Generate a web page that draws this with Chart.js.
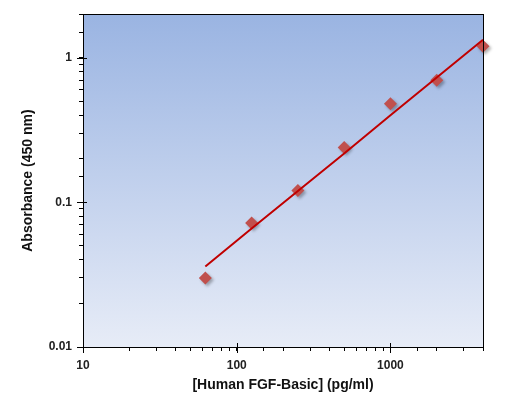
<!DOCTYPE html>
<html>
<head>
<meta charset="utf-8">
<script src="https://cdn.jsdelivr.net/npm/chart.js@4/dist/chart.umd.min.js"></script>
<style>
  html, body { margin: 0; padding: 0; background: #fff; }
  #wrap { width: 520px; height: 414px; }
</style>
</head>
<body>
<div id="wrap"><canvas id="curve"></canvas></div>
<script>
// standard concentrations (pg/ml) and measured absorbance
const concentrations = [62.5, 125, 250, 500, 1000, 2000, 4000];
const absorbance = [0.030, 0.072, 0.121, 0.24, 0.48, 0.70, 1.20];

// fitted curve at the same concentrations
const fitValues = [0.036, 0.066, 0.120, 0.218, 0.40, 0.73, 1.33];

const xDecades = [10, 100, 1000];
const yDecades = [0.01, 0.1, 1];

const isDecade = (list, v) => list.some(d => Math.abs(d - v) < d * 1e-6);

const plotFrame = {
    id: "plotFrame",
    beforeDraw(chart) {
        const { ctx, chartArea: a } = chart;
        const g = ctx.createLinearGradient(0, a.top, 0, a.bottom);
        g.addColorStop(0, "#9ab4e2");
        g.addColorStop(1, "#e7ecf7");
        ctx.save();
        ctx.fillStyle = g;
        ctx.fillRect(a.left, a.top, a.right - a.left, a.bottom - a.top);
        ctx.restore();
    },
    // soft drop shadow under the diamonds
    beforeDatasetDraw(chart, args) {
        if (args.index !== 1) return;
        const ctx = chart.ctx;
        ctx.save();
        ctx.shadowColor = "rgba(0,0,0,0.3)";
        ctx.shadowBlur = 3;
        ctx.shadowOffsetX = 2;
        ctx.shadowOffsetY = 2;
    },
    afterDatasetDraw(chart, args) {
        if (args.index !== 1) return;
        chart.ctx.restore();
    },
    afterDraw(chart) {
        const { ctx, chartArea: a, scales } = chart;
        ctx.save();
        ctx.strokeStyle = "#000000";
        ctx.lineWidth = 1;
        ctx.strokeRect(Math.round(a.left) + 0.5, Math.round(a.top) + 0.5,
            Math.round(a.right - a.left), Math.round(a.bottom - a.top));

        // decade ticks also cross into the plot area
        ctx.beginPath();
        xDecades.forEach(v => {
            const px = Math.round(scales.x.getPixelForValue(v)) + 0.5;
            ctx.moveTo(px, a.bottom - 4);
            ctx.lineTo(px, a.bottom + 6);
        });
        yDecades.forEach(v => {
            const py = Math.round(scales.y.getPixelForValue(v)) + 0.5;
            ctx.moveTo(a.left - 6, py);
            ctx.lineTo(a.left + 4, py);
        });
        ctx.stroke();
        ctx.restore();
    }
};

const tickFont = { family: "'Liberation Sans', Arial, sans-serif", size: 12, weight: "bold" };
const titleFont = { family: "'Liberation Sans', Arial, sans-serif", size: 14, weight: "bold" };

const outsideTicks = {
    display: true,
    drawOnChartArea: false,
    drawTicks: true,
    tickLength: 4,
    tickColor: "#000000",
    tickWidth: 1
};

new Chart(document.getElementById("curve"), {
    data: {
        datasets: [
            {
                type: "line",
                data: concentrations.map((c, i) => ({ x: c, y: fitValues[i] })),
                borderColor: "#c00000",
                borderWidth: 2,
                pointRadius: 0,
                tension: 0,
                order: 0
            },
            {
                type: "scatter",
                data: concentrations.map((c, i) => ({ x: c, y: absorbance[i] })),
                pointStyle: "rectRot",
                pointRadius: 6.5,
                backgroundColor: "#c0504d",
                borderColor: "#c0504d",
                borderWidth: 0,
                clip: false,
                order: 1
            }
        ]
    },
    options: {
        responsive: true,
        maintainAspectRatio: false,
        animation: false,
        layout: {
            padding: { top: 14, right: 37, left: 0, bottom: 0 }
        },
        plugins: {
            legend: { display: false },
            tooltip: { enabled: false }
        },
        scales: {
            x: {
                type: "logarithmic",
                min: 10,
                max: 4000,
                grid: outsideTicks,
                border: { display: true, color: "#000000", width: 1 },
                ticks: {
                    autoSkip: false,
                    maxRotation: 0,
                    padding: 7,
                    color: "#222",
                    font: tickFont,
                    callback: v => isDecade(xDecades, v) ? String(v) : ""
                },
                title: {
                    display: true,
                    text: "[Human FGF-Basic] (pg/ml)",
                    color: "#111",
                    font: titleFont,
                    padding: { top: 0, bottom: 20 }
                },
                afterFit(scale) { scale.height = 67; }
            },
            y: {
                type: "logarithmic",
                min: 0.01,
                max: 2,
                grid: outsideTicks,
                border: { display: true, color: "#000000", width: 1 },
                ticks: {
                    autoSkip: false,
                    padding: 7,
                    color: "#222",
                    font: tickFont,
                    callback: v => {
                        const d = yDecades.find(x => Math.abs(x - v) < x * 1e-6);
                        return d !== undefined ? String(d) : "";
                    }
                },
                title: {
                    display: true,
                    text: "Absorbance (450 nm)",
                    color: "#111",
                    font: titleFont,
                    padding: { top: 20, bottom: 0 }
                },
                afterFit(scale) { scale.width = 83; }
            }
        }
    },
    plugins: [plotFrame]
});
</script>
</body>
</html>
